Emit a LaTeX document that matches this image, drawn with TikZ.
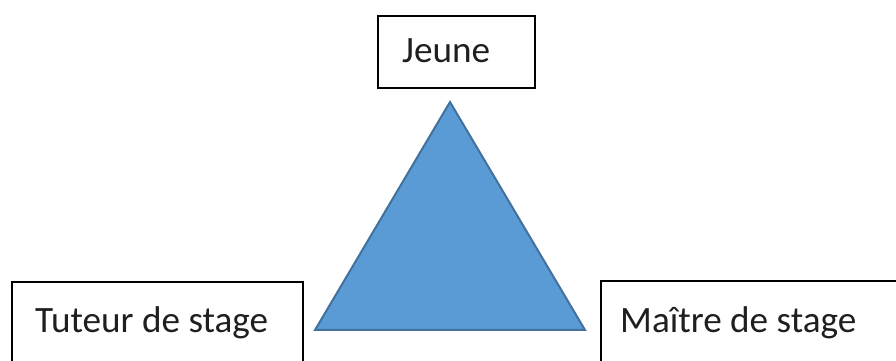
\documentclass[tikz,border=0pt]{standalone}
\usepackage{fontspec}
\setmainfont{Carlito}
\definecolor{triFill}{HTML}{5B9BD5}
\definecolor{triEdge}{HTML}{41719C}
\begin{document}
\begin{tikzpicture}[x=1pt,y=1pt,
  box/.style={draw=black,line width=1.3pt},
  lbl/.style={anchor=base west,inner sep=0pt,font=\fontsize{37.2}{44}\selectfont,text=black!88}]
\useasboundingbox (0,0) rectangle (896,361);
% boxes
\draw[box] (378,345) rectangle (535,273);
\draw[box] (12,79) rectangle (303,-40);
\draw[box] (601,80) rectangle (960,-40);
\node[lbl] (jeune) at (402,298) {Jeune};
\node[lbl] (tuteur) at (35,28) {Tuteur de stage};
\node[lbl] (maitre) at (620,28) {Maître de stage};
% triangle
\coordinate (top) at (450,259);
\coordinate (bl) at (315,31);
\coordinate (br) at (585,31);
\filldraw[fill=triFill,draw=triEdge,line width=2pt,line join=miter] (top) -- (bl) -- (br) -- cycle;
\end{tikzpicture}
\end{document}
